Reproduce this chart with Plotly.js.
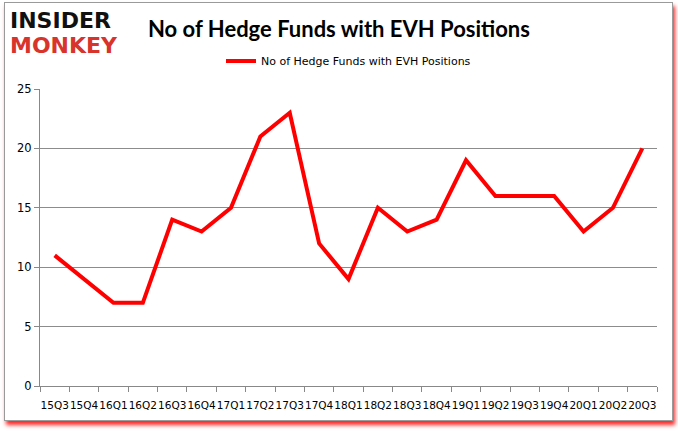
<!DOCTYPE html>
<html>
<head>
<meta charset="utf-8">
<script src="https://cdn.plot.ly/plotly-3.0.1.min.js"></script>
<style>
  body { margin: 0; background: #fff; }
  #frame {
    position: absolute; left: 4px; top: 2px; width: 667px; height: 417px;
    border: 1px solid #9a9a9a;
    box-shadow: 2px 4px 4px rgba(255, 0, 0, 0.85);
    background: #fff;
  }
  #plot { position: absolute; left: 0; top: 0; width: 678px; height: 431px; }
</style>
</head>
<body>
<div id="frame"></div>
<div id="plot"></div>
<script>
const quarters = ["15Q3", "15Q4", "16Q1", "16Q2", "16Q3", "16Q4", "17Q1", "17Q2", "17Q3", "17Q4",
                  "18Q1", "18Q2", "18Q3", "18Q4", "19Q1", "19Q2", "19Q3", "19Q4", "20Q1", "20Q2", "20Q3"];
const fundCounts = [11, 9, 7, 7, 14, 13, 15, 21, 23, 12, 9, 15, 13, 14, 19, 16, 16, 16, 13, 15, 20];
const yTicks = [0, 5, 10, 15, 20, 25];
const seriesName = "No of Hedge Funds with EVH Positions";

const funds = {
    type: "scatter",
    mode: "lines",
    x: quarters,
    y: fundCounts,
    name: seriesName,
    line: {color: "#ff0000", width: 4}
};

Plotly.newPlot("plot", [funds], {
    width: 678,
    height: 431,
    paper_bgcolor: "rgba(0,0,0,0)",
    plot_bgcolor: "rgba(0,0,0,0)",
    margin: {l: 40, r: 21, t: 89, b: 45},
    font: {family: "DejaVu Sans", size: 11, color: "#000"},
    showlegend: true,
    legend: {
        orientation: "h", x: 0.5, xanchor: "center", y: 1.094, yanchor: "middle",
        font: {family: "DejaVu Sans", size: 11, color: "#000"},
        itemwidth: 30
    },
    xaxis: {
        type: "category",
        range: [-0.5, 20.5],
        tickangle: 0,
        showgrid: false,
        showline: true,
        linecolor: "#888",
        ticks: "outside",
        ticklen: 5,
        tickcolor: "#888",
        tickson: "boundaries",
        ticklabelstandoff: 9,
        tickfont: {size: 10.5},
        fixedrange: true
    },
    yaxis: {
        range: [0, 25],
        tickvals: yTicks,
        showgrid: true,
        gridcolor: "#8c8c8c",
        gridwidth: 1,
        showline: true,
        linecolor: "#888",
        ticks: "outside",
        ticklen: 5,
        tickcolor: "#888",
        zeroline: false,
        tickfont: {size: 11.5},
        fixedrange: true
    },
    annotations: [
        {
            text: "<b>No of Hedge Funds with EVH Positions</b>",
            xref: "paper", yref: "paper", x: 0.485, y: 1.205, yanchor: "middle",
            xanchor: "center", showarrow: false,
            font: {family: "Lato", size: 22, color: "#000"}
        },
        {
            // logo, top line
            text: "<b>INSIDER</b>",
            xref: "paper", yref: "paper", x: -0.052, y: 1.232, xanchor: "left", yanchor: "middle",
            showarrow: false,
            font: {family: "DejaVu Sans", size: 22, color: "#111"}
        },
        {
            text: "<b>MONKEY</b>",
            xref: "paper", yref: "paper", x: -0.052, y: 1.145, xanchor: "left", yanchor: "middle",
            showarrow: false,
            font: {family: "DejaVu Sans", size: 22, color: "#d9342b"}
        }
    ]
}, {displayModeBar: false, staticPlot: true});
</script>
</body>
</html>
